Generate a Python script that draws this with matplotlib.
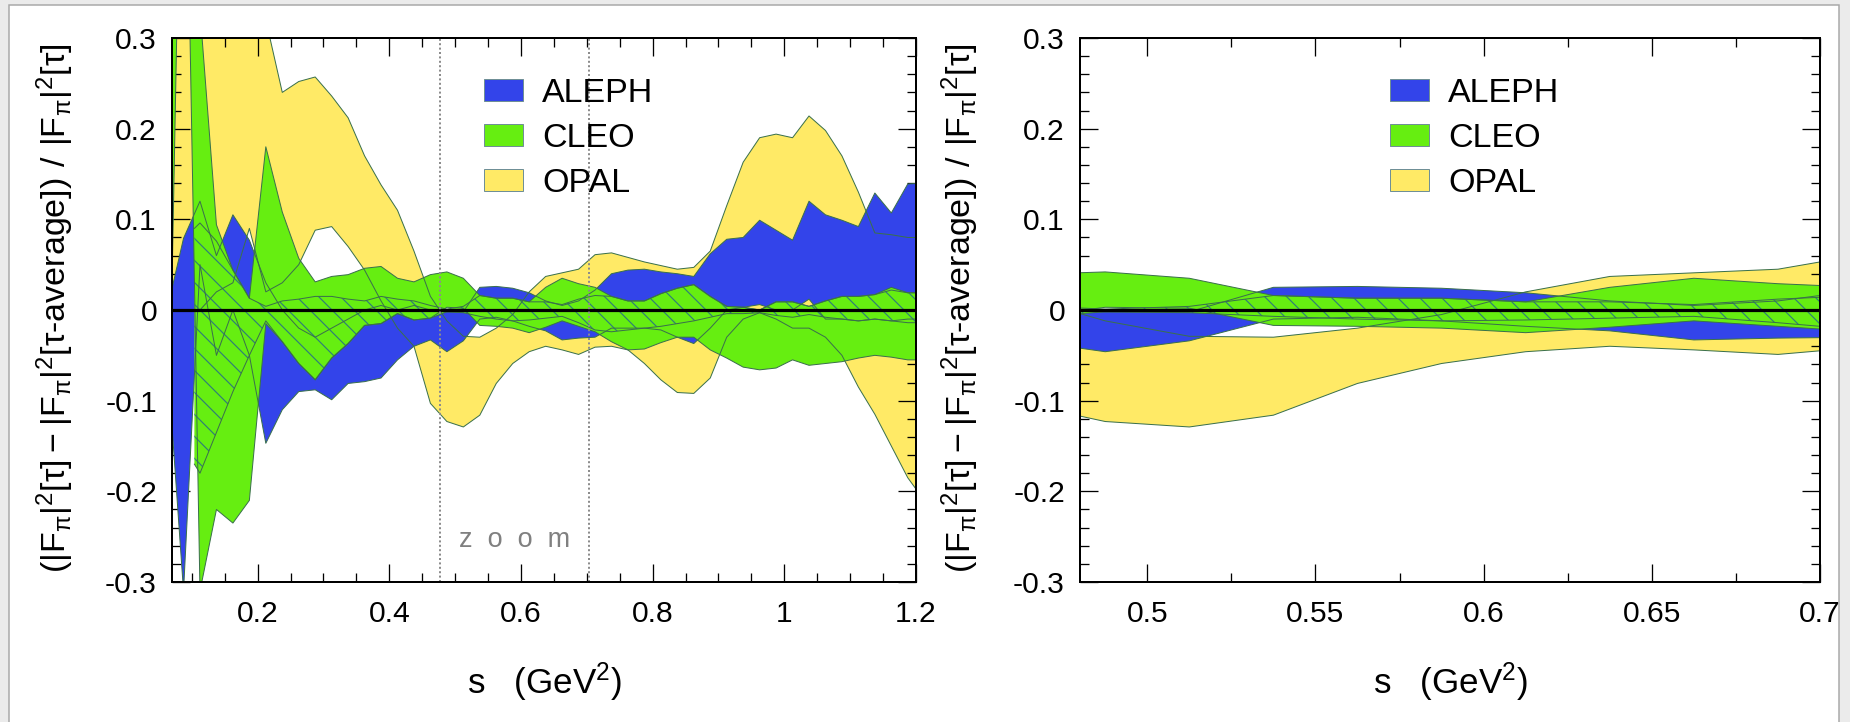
import matplotlib
matplotlib.use("Agg")
import matplotlib.pyplot as plt
from matplotlib.patches import Rectangle
from matplotlib.ticker import FixedLocator, FixedFormatter, MultipleLocator

DPI = 132
W, H = 1850, 722


def px(v):
    """Convert a size in pixels to points at the figure resolution."""
    return v * 72.0 / DPI


plt.rcParams['font.family'] = ['Liberation Sans', 'DejaVu Sans']
plt.rcParams['mathtext.default'] = 'regular'
plt.rcParams['axes.unicode_minus'] = False
plt.rcParams['hatch.linewidth'] = px(1.2)

# ---------------------------------------------------------------- data
# bin centres in s (GeV^2)
s_grid = [0.0625, 0.0875, 0.1125, 0.1375, 0.1625, 0.1875, 0.2125, 0.2375,
          0.2625, 0.2875, 0.3125, 0.3375, 0.3625, 0.3875, 0.4125, 0.4375,
          0.4625, 0.4875, 0.5125, 0.5375, 0.5625, 0.5875, 0.6125, 0.6375,
          0.6625, 0.6875, 0.7125, 0.7375, 0.7625, 0.7875, 0.8125, 0.8375,
          0.8625, 0.8875, 0.9125, 0.9375, 0.9625, 0.9875, 1.0125, 1.0375,
          1.0625, 1.0875, 1.1125, 1.1375, 1.1625, 1.1875, 1.2125]

aleph_lo = [-0.050, -0.310, 0.050, -0.050, 0.000, -0.050, -0.147, -0.110,
            -0.090, -0.088, -0.099, -0.081, -0.079, -0.075, -0.055, -0.040,
            -0.033, -0.046, -0.034, -0.010, -0.008, -0.012, -0.018, -0.023,
            -0.033, -0.031, -0.030, -0.020, -0.020, -0.020, -0.022, -0.030,
            -0.037, -0.020, 0.000, 0.003, 0.006, 0.000, 0.000, 0.012,
            -0.010, -0.010, -0.012, -0.010, -0.012, -0.010, -0.010]
aleph_hi = [0.000, 0.079, 0.120, 0.060, 0.105, 0.077, 0.030, 0.000,
            -0.020, -0.030, -0.020, -0.010, 0.000, 0.005, 0.000, 0.005,
            0.000, -0.002, -0.002, 0.025, 0.026, 0.024, 0.019, 0.010,
            0.005, 0.010, 0.022, 0.040, 0.044, 0.045, 0.042, 0.040,
            0.037, 0.062, 0.078, 0.080, 0.099, 0.088, 0.077, 0.120,
            0.105, 0.099, 0.092, 0.129, 0.107, 0.139, 0.140]

cleo_lo = [-0.260, 0.700, -0.310, -0.220, -0.235, -0.210, -0.015, -0.035,
           -0.059, -0.077, -0.053, -0.037, -0.017, -0.015, -0.004, -0.011,
           -0.009, 0.003, 0.002, -0.017, -0.018, -0.020, -0.025, -0.019,
           -0.012, -0.018, -0.024, -0.035, -0.044, -0.043, -0.036, -0.030,
           -0.030, -0.044, -0.053, -0.063, -0.066, -0.064, -0.055, -0.061,
           -0.059, -0.057, -0.053, -0.050, -0.052, -0.055, -0.055]
cleo_hi = [2.000, 2.000, 0.330, 0.094, 0.044, 0.013, 0.180, 0.108,
           0.057, 0.031, 0.037, 0.039, 0.046, 0.048, 0.035, 0.031,
           0.039, 0.042, 0.035, 0.016, 0.013, 0.013, 0.009, 0.025,
           0.035, 0.029, 0.025, 0.015, 0.010, 0.010, 0.018, 0.024,
           0.028, 0.015, 0.004, 0.003, 0.000, 0.009, 0.009, 0.004,
           0.010, 0.015, 0.015, 0.017, 0.025, 0.019, 0.019]

opal_lo = [0.000, 0.000, 0.000, 0.020, 0.030, 0.090, 0.020, 0.030,
           0.050, 0.088, 0.092, 0.070, 0.044, 0.010, -0.020, -0.040,
           -0.103, -0.123, -0.129, -0.116, -0.081, -0.059, -0.046, -0.040,
           -0.044, -0.049, -0.041, -0.040, -0.044, -0.059, -0.077, -0.091,
           -0.092, -0.075, -0.030, -0.010, -0.003, -0.010, -0.020, -0.020,
           -0.030, -0.050, -0.085, -0.115, -0.150, -0.185, -0.210]
opal_hi = [0.800, 0.800, 0.800, 0.800, 0.800, 0.800, 0.320, 0.240,
           0.252, 0.257, 0.236, 0.212, 0.170, 0.138, 0.110, 0.065,
           0.015, -0.012, -0.029, -0.030, -0.020, -0.005, 0.020, 0.037,
           0.041, 0.045, 0.061, 0.063, 0.058, 0.053, 0.049, 0.045,
           0.047, 0.065, 0.115, 0.163, 0.190, 0.194, 0.190, 0.214,
           0.198, 0.170, 0.130, 0.085, 0.083, 0.080, 0.080]

# uncertainty band of the tau average
s_avg = [0.104] + s_grid[2:]
avg_lo = [-0.170, -0.180, -0.135, -0.090, -0.050, -0.012, -0.035, -0.059,
          -0.077, -0.053, -0.037, -0.017, -0.015, -0.004, -0.011, -0.009,
          -0.002, -0.003, -0.007, -0.010, -0.012, -0.011, -0.009, -0.007,
          -0.014, -0.022, -0.024, -0.022, -0.020, -0.018, -0.015, -0.012,
          -0.008, -0.004, -0.004, -0.003, -0.006, -0.008, -0.005, -0.008,
          -0.010, -0.012, -0.010, -0.012, -0.014, -0.014]
avg_hi = [0.090, 0.096, 0.076, 0.044, 0.013, 0.004, 0.010, 0.012,
          0.015, 0.015, 0.012, 0.010, 0.015, 0.012, 0.010, 0.005,
          0.001, 0.004, 0.016, 0.013, 0.013, 0.009, 0.009, 0.006,
          0.012, 0.016, 0.015, 0.010, 0.010, 0.018, 0.024, 0.028,
          0.015, 0.004, 0.003, 0.000, 0.009, 0.009, 0.004, 0.010,
          0.015, 0.015, 0.017, 0.022, 0.019, 0.019]

experiments = ['ALEPH', 'CLEO', 'OPAL']

full_xticks = [0.2, 0.4, 0.6, 0.8, 1.0, 1.2]
full_xlabels = ['0.2', '0.4', '0.6', '0.8', '1', '1.2']
zoom_xticks = [0.5, 0.55, 0.6, 0.65, 0.7]
zoom_xlabels = ['0.5', '0.55', '0.6', '0.65', '0.7']
yticks = [-0.3, -0.2, -0.1, 0.0, 0.1, 0.2, 0.3]
ylabels = ['-0.3', '-0.2', '-0.1', '0', '0.1', '0.2', '0.3']
zoom_window = [0.4765, 0.703]

# ---------------------------------------------------------------- style
BLUE = '#3344ea'
GREEN = '#66ee11'
YELLOW = '#ffea66'
HATCH = '#2f7f76'
EDGE = '#3a704c'
colors = {'ALEPH': BLUE, 'CLEO': GREEN, 'OPAL': YELLOW}

fig = plt.figure(figsize=(W / DPI, H / DPI), dpi=DPI)
fig.patch.set_facecolor('#ebebeb')
fig.add_artist(Rectangle((9 / W, -0.02), (1839 - 9) / W, 717 / H + 0.02,
                         transform=fig.transFigure, facecolor='white',
                         edgecolor='#a8a8a8', linewidth=px(1.5), zorder=-10))

ax_full = fig.add_axes([172 / W, (H - 582) / H, 744 / W, 544 / H])
ax_zoom = fig.add_axes([1080 / W, (H - 582) / H, 740 / W, 544 / H])


def draw_bands(ax):
    ax.fill_between(s_grid, opal_lo, opal_hi, facecolor=YELLOW, linewidth=0, zorder=1)
    ax.fill_between(s_grid, aleph_lo, aleph_hi, facecolor=BLUE, linewidth=0, zorder=2)
    ax.fill_between(s_grid, cleo_lo, cleo_hi, facecolor=GREEN, linewidth=0, zorder=3)
    ax.fill_between(s_avg, avg_lo, avg_hi, facecolor=GREEN, edgecolor=HATCH,
                    hatch='\\\\', linewidth=0, zorder=4)
    for lo, hi in [(opal_lo, opal_hi), (aleph_lo, aleph_hi), (cleo_lo, cleo_hi)]:
        ax.plot(s_grid, lo, color=EDGE, lw=px(1.0), zorder=5)
        ax.plot(s_grid, hi, color=EDGE, lw=px(1.0), zorder=5)
    ax.plot(s_avg, avg_lo, color=EDGE, lw=px(1.0), zorder=5)
    ax.plot(s_avg, avg_hi, color=EDGE, lw=px(1.0), zorder=5)
    ax.axhline(0.0, color='black', lw=px(3.2), zorder=6)


def draw_legend(ax):
    centres = [0.904, 0.822, 0.739]
    for name, yc in zip(experiments, centres):
        ax.add_patch(Rectangle((0.4194, yc - 0.0202), 0.0524, 0.0404,
                               transform=ax.transAxes, facecolor=colors[name],
                               edgecolor='#6f8f96', linewidth=px(1.0), zorder=10))
        ax.text(0.4973, yc - 0.022, name, transform=ax.transAxes,
                fontsize=px(34), ha='left', va='baseline', zorder=10)


def style_axes(ax, xlim, xt, xl, xminor):
    ax.set_xlim(*xlim)
    ax.set_ylim(-0.3, 0.3)
    ax.xaxis.set_major_locator(FixedLocator(xt))
    ax.xaxis.set_major_formatter(FixedFormatter(xl))
    ax.xaxis.set_minor_locator(MultipleLocator(xminor))
    ax.yaxis.set_major_locator(FixedLocator(yticks))
    ax.yaxis.set_major_formatter(FixedFormatter(ylabels))
    ax.yaxis.set_minor_locator(MultipleLocator(0.02))
    ax.tick_params(which='both', direction='in', top=True, right=True,
                   width=px(1.3), colors='black', labelsize=px(30))
    ax.tick_params(which='major', length=px(18))
    ax.tick_params(which='minor', length=px(9))
    ax.tick_params(axis='y', pad=px(15))
    ax.tick_params(axis='x', pad=px(18))
    for sp in ax.spines.values():
        sp.set_linewidth(px(2.0))
        sp.set_zorder(20)


for ax in (ax_full, ax_zoom):
    draw_bands(ax)
    draw_legend(ax)

style_axes(ax_full, (0.07, 1.2), full_xticks, full_xlabels, 0.05)
style_axes(ax_zoom, (0.48, 0.70), zoom_xticks, zoom_xlabels, 0.025)

for xv in zoom_window:
    ax_full.axvline(xv, color='#8c8c8c', lw=px(2.0), ls=(0, (1, 1.2)), zorder=7)
ax_full.text(sum(zoom_window) / 2, -0.254, 'z  o  o  m', color='#808080',
             fontsize=px(27), ha='center', va='center', zorder=7)

ylabel = (r'$(|F_{\pi}|^{2}[\tau] - |F_{\pi}|^{2}[\tau$-average$])'
          r'\ /\ |F_{\pi}|^{2}[\tau]$')
for xc in (55, 960):
    fig.text(xc / W, (H - 308) / H, ylabel, rotation=90, fontsize=px(34),
             ha='center', va='center')
for xc in (544, 1450):
    fig.text(xc / W, (H - 682) / H, r's   (GeV$^{2}$)', fontsize=px(35),
             ha='center', va='center')

fig.savefig('out.png', dpi=DPI, facecolor=fig.get_facecolor())
